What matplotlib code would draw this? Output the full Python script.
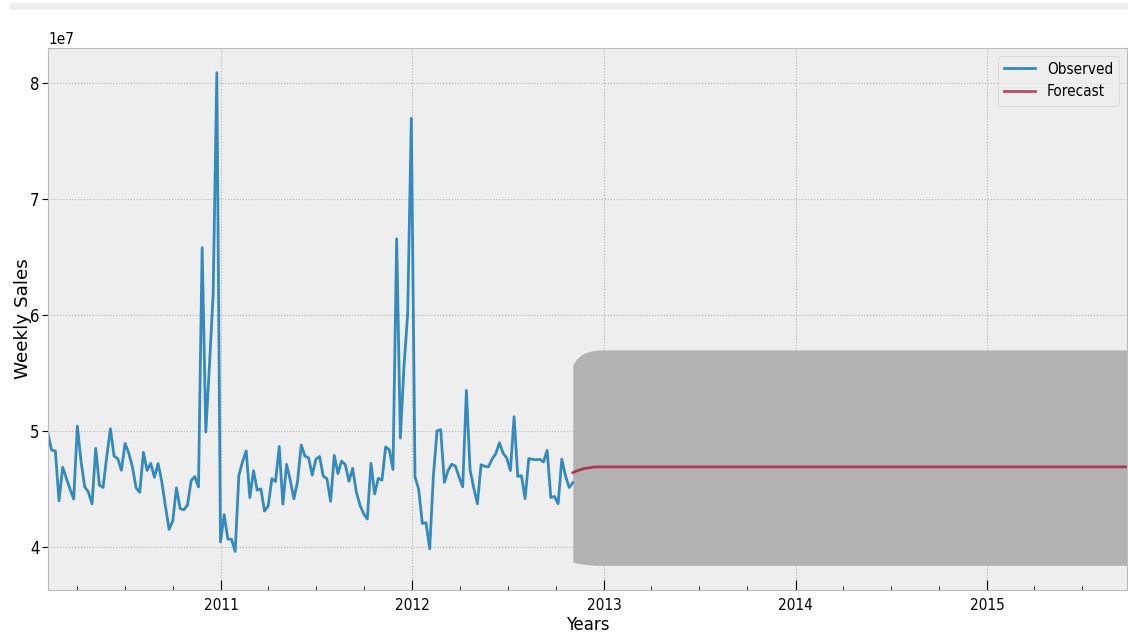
import numpy as np
import pandas as pd
import matplotlib
matplotlib.use("Agg")
import matplotlib.pyplot as plt
import matplotlib.dates as mdates
from matplotlib.patches import Rectangle

# Weekly sales (millions), one value per week starting 2010-02-05
observed_m = [
    # 2010
    49.75, 48.34, 48.28, 43.97, 46.87, 45.93, 44.99, 44.13, 50.42, 47.37,
    45.18, 44.73, 43.71, 48.50, 45.33, 45.12, 47.76, 50.19, 47.83, 47.62,
    46.61, 48.92, 48.10, 46.90, 45.10, 44.70, 48.16, 46.60, 47.20, 46.00,
    47.19, 45.63, 43.50, 41.50, 42.24, 45.09, 43.30, 43.20, 43.60, 45.70,
    46.07, 45.17, 65.82, 49.91, 55.67, 61.82, 80.93, 40.43,
    # 2011
    42.78, 40.67, 40.65, 39.60, 46.15, 47.34, 48.28, 44.25, 46.57, 44.89,
    45.00, 43.08, 43.53, 45.89, 45.64, 48.66, 43.68, 47.12, 45.76, 44.14,
    45.65, 48.80, 47.83, 47.68, 46.19, 47.57, 47.80, 46.10, 45.88, 43.93,
    47.89, 46.32, 47.40, 47.10, 45.66, 46.77, 44.75, 43.61, 42.86, 42.40,
    47.21, 44.56, 45.91, 45.76, 48.62, 48.38, 46.67, 66.59, 49.39, 55.56,
    60.09, 76.99, 46.04,
    # 2012
    44.96, 42.02, 42.08, 39.83, 46.09, 50.01, 50.11, 45.56, 46.58, 47.13,
    46.97, 46.04, 45.18, 53.50, 46.63, 45.10, 43.72, 47.08, 46.95, 46.90,
    47.57, 48.03, 48.98, 48.09, 47.65, 46.58, 51.23, 46.08, 46.14, 44.16,
    47.62, 47.55, 47.52, 47.55, 47.33, 48.33, 44.25, 44.35, 43.73, 47.57,
    46.13, 45.12, 45.54,
]
obs_start = "2010-02-05"

# Forecast (millions) with confidence bounds
fc_dates = ["2012-11-02", "2012-11-09", "2012-11-16", "2012-11-23",
            "2012-11-30", "2012-12-07", "2012-12-14", "2012-12-21",
            "2015-09-25"]
fc_mean_m = [46.40, 46.55, 46.65, 46.75, 46.80, 46.85, 46.90, 46.90, 46.90]
fc_upper_m = [55.70, 56.20, 56.50, 56.70, 56.80, 56.90, 56.95, 57.00, 57.00]
fc_lower_m = [38.70, 38.60, 38.55, 38.50, 38.45, 38.45, 38.40, 38.40, 38.40]

plt.style.use("bmh")
plt.rcParams["font.size"] = 11
plt.rcParams["font.stretch"] = "condensed"

obs_dates = pd.date_range(obs_start, periods=len(observed_m), freq="7D")
fc_idx = pd.to_datetime(fc_dates)
observed = np.array(observed_m) * 1e6
fc_mean = np.array(fc_mean_m) * 1e6
fc_upper = np.array(fc_upper_m) * 1e6
fc_lower = np.array(fc_lower_m) * 1e6

fig = plt.figure(figsize=(11.28, 6.37), dpi=100)
# light strip at the top of the screenshot
fig.patches.append(Rectangle((10 / 1128, 1 - 8.5 / 637), 1, 5 / 637,
                             transform=fig.transFigure, color="#eeeeee",
                             zorder=0))
ax = fig.add_axes([48 / 1128, 1 - 590 / 637, (1127 - 48) / 1128, 542 / 637])

ax.plot(obs_dates, observed, color="#348ABD", lw=2, label="Observed")
ax.plot(fc_idx, fc_mean, color="#A60628", alpha=0.7, lw=2, label="Forecast")
ax.fill_between(fc_idx, fc_lower, fc_upper, color="k", alpha=0.25, lw=0)

ax.set_xlim(obs_dates[0], fc_idx[-1])
ax.set_yticks([4e7, 5e7, 6e7, 7e7, 8e7])

ax.xaxis.set_major_locator(mdates.YearLocator())
ax.xaxis.set_major_formatter(mdates.DateFormatter("%Y"))
ax.xaxis.set_minor_locator(mdates.MonthLocator(bymonth=[4, 7, 10]))

ax.grid(True, which="major", linestyle=":", linewidth=0.8, color="#b2b2b2")
ax.grid(False, which="minor")
ax.tick_params(axis="x", which="major", direction="in", length=7, pad=6)
ax.tick_params(axis="x", which="minor", direction="in", length=3)
ax.tick_params(axis="y", direction="out", length=4, pad=2, labelsize=12)
for s in ax.spines.values():
    s.set_color("#bcbcbc")

ax.set_xlabel("Years", fontsize=13.2, labelpad=2)
ax.set_ylabel("Weekly Sales", fontsize=13.2, fontstretch="normal",
              labelpad=-1)
ax.legend(loc="upper right", fontsize=11)

plt.savefig("out.png", dpi=100)
